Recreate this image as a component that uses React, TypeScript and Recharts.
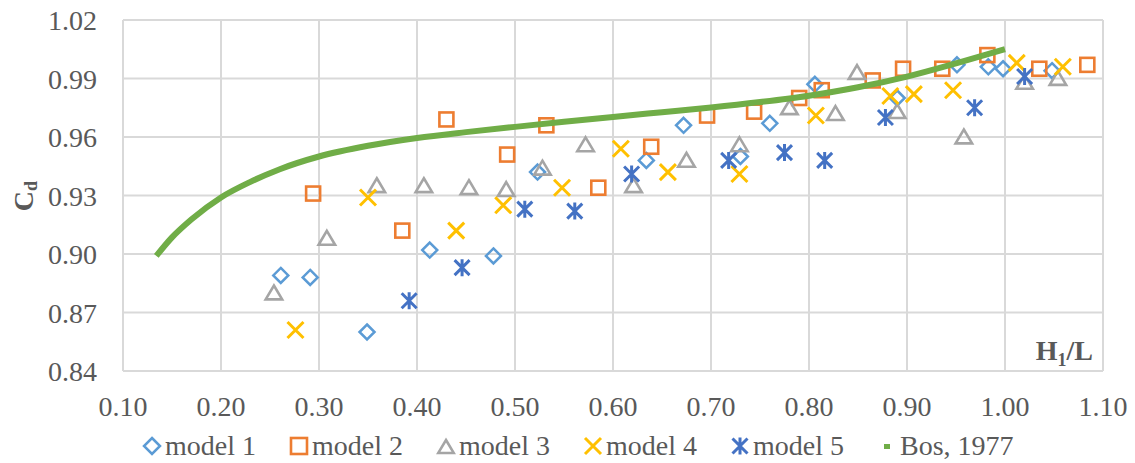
import React from "react"
import { ComposedChart, Scatter, XAxis, YAxis, CartesianGrid } from "recharts"

// tick values
const xTicks = [0.1, 0.2, 0.3, 0.4, 0.5, 0.6, 0.7, 0.8, 0.9, 1.0, 1.1]
const yTicks = [0.84, 0.87, 0.9, 0.93, 0.96, 0.99, 1.02]

// measured points [H1/L, Cd]
const model1: [number, number][] = [
  [0.261, 0.889], [0.291, 0.888], [0.349, 0.86], [0.413, 0.902], [0.478, 0.899],
  [0.523, 0.942], [0.634, 0.948], [0.672, 0.966], [0.73, 0.95], [0.76, 0.967],
  [0.806, 0.987], [0.89, 0.98], [0.951, 0.997], [0.983, 0.996], [0.998, 0.995],
  [1.048, 0.994],
]
const model2: [number, number][] = [
  [0.294, 0.931], [0.385, 0.912], [0.43, 0.969], [0.492, 0.951], [0.532, 0.966],
  [0.585, 0.934], [0.639, 0.955], [0.696, 0.971], [0.744, 0.973], [0.79, 0.98],
  [0.813, 0.984], [0.865, 0.989], [0.896, 0.995], [0.936, 0.995], [0.982, 1.002],
  [1.035, 0.995], [1.084, 0.997],
]
const model3: [number, number][] = [
  [0.254, 0.88], [0.308, 0.908], [0.359, 0.935], [0.407, 0.935], [0.453, 0.934],
  [0.491, 0.933], [0.528, 0.944], [0.572, 0.956], [0.621, 0.935], [0.675, 0.948],
  [0.729, 0.956], [0.78, 0.975], [0.827, 0.972], [0.849, 0.993], [0.89, 0.973],
  [0.958, 0.96], [1.02, 0.988], [1.054, 0.99],
]
const model4: [number, number][] = [
  [0.276, 0.861], [0.35, 0.929], [0.44, 0.912], [0.488, 0.925], [0.548, 0.934],
  [0.608, 0.954], [0.656, 0.942], [0.729, 0.941], [0.807, 0.971], [0.883, 0.981],
  [0.907, 0.982], [0.947, 0.984], [1.012, 0.998], [1.059, 0.996],
]
const model5: [number, number][] = [
  [0.392, 0.876], [0.446, 0.893], [0.51, 0.923], [0.561, 0.922], [0.619, 0.941],
  [0.718, 0.948], [0.775, 0.952], [0.816, 0.948], [0.878, 0.97], [0.969, 0.975],
  [1.02, 0.991],
]
// Bos, 1977 curve
const bos: [number, number][] = [
  [0.134, 0.899], [0.15, 0.9085], [0.17, 0.9178], [0.2, 0.929], [0.23, 0.937],
  [0.26, 0.9435], [0.3, 0.95], [0.35, 0.9555], [0.4, 0.9595], [0.45, 0.9625],
  [0.5, 0.9652], [0.55, 0.9678], [0.6, 0.9703], [0.65, 0.9727], [0.7, 0.9751],
  [0.75, 0.9779], [0.8, 0.9812], [0.85, 0.9855], [0.9, 0.991], [0.95, 0.9978],
  [1.0, 1.005],
]

const C1 = "#5B9BD5"
const C2 = "#ED7D31"
const C3 = "#A5A5A5"
const C4 = "#FFC000"
const C5 = "#4472C4"
const C6 = "#70AD47"
const TXT = "#595959"
const FONT = "'Liberation Serif', 'Times New Roman', serif"

const pts = (a: [number, number][]) => a.map(([x, y]) => ({ x, y }))

const diamond = (cx: number, cy: number, r: number, c: string) => (
  <path d={`M${cx},${cy - r}L${cx + r},${cy}L${cx},${cy + r}L${cx - r},${cy}Z`} fill="none" stroke={c} strokeWidth={2.5} />
)
const square = (cx: number, cy: number, h: number, c: string) => (
  <rect x={cx - h} y={cy - h} width={h * 2} height={h * 2} fill="none" stroke={c} strokeWidth={2.6} />
)
const triangle = (cx: number, cy: number, h: number, c: string) => (
  <path d={`M${cx},${cy - h}L${cx + h * 1.1},${cy + h * 0.85}L${cx - h * 1.1},${cy + h * 0.85}Z`} fill="none" stroke={c} strokeWidth={2.6} strokeLinejoin="miter" />
)
const cross = (cx: number, cy: number, h: number, c: string) => (
  <path d={`M${cx - h},${cy - h}L${cx + h},${cy + h}M${cx - h},${cy + h}L${cx + h},${cy - h}`} stroke={c} strokeWidth={3} />
)
const star = (cx: number, cy: number, h: number, c: string) => (
  <path d={`M${cx - h},${cy - h}L${cx + h},${cy + h}M${cx - h},${cy + h}L${cx + h},${cy - h}M${cx},${cy - h - 1}L${cx},${cy + h + 1}`} stroke={c} strokeWidth={3} />
)

const YTick = (p: any) => (
  <text x={97} y={p.y} dy={10} textAnchor="end" fill={TXT} fontSize={28} fontFamily={FONT}>
    {Number(p.payload.value).toFixed(2)}
  </text>
)
const XTick = (p: any) => (
  <text x={p.x} y={416} textAnchor="middle" fill={TXT} fontSize={28} fontFamily={FONT}>
    {Number(p.payload.value).toFixed(2)}
  </text>
)
const YLabel = () => (
  <text transform="rotate(-90, 33, 196)" x={33} y={196} textAnchor="middle" fill={TXT} fontSize={28} fontWeight="bold" fontFamily={FONT}>
    C<tspan fontSize={18} dy={4}>d</tspan>
  </text>
)
const XLabel = () => (
  <text x={1093} y={360} textAnchor="end" fill={TXT} fontSize={28} fontWeight="bold" fontFamily={FONT}>
    H<tspan fontSize={18} dy={6}>1</tspan><tspan dy={-6}>/L</tspan>
  </text>
)

const legendItems = [
  { name: "model 1", icon: diamond(10, 10, 8, C1) },
  { name: "model 2", icon: square(10, 10, 8, C2) },
  { name: "model 3", icon: triangle(10, 11, 7, C3) },
  { name: "model 4", icon: cross(10, 10, 8, C4) },
  { name: "model 5", icon: star(10, 10, 7.5, C5) },
  { name: "Bos, 1977", icon: <rect x={7} y={8} width={6} height={5} fill={C6} /> },
]

export default function App() {
  return (
    <div style={{ position: "absolute", left: 0, top: 0, width: 1135, height: 463, background: "#fff" }}>
      <ComposedChart width={1135} height={463} margin={{ top: 20, right: 32, bottom: 0, left: 0 }}>
        <CartesianGrid stroke="#D9D9D9" strokeWidth={2} />
        <XAxis
          type="number"
          dataKey="x"
          domain={[0.1, 1.1]}
          ticks={xTicks}
          interval={0}
          height={92}
          axisLine={false}
          tickLine={false}
          tick={<XTick />}
          label={<XLabel />}
          allowDataOverflow
        />
        <YAxis
          type="number"
          dataKey="y"
          domain={[0.84, 1.02]}
          ticks={yTicks}
          interval={0}
          width={123}
          axisLine={false}
          tickLine={false}
          tick={<YTick />}
          label={<YLabel />}
          allowDataOverflow
        />
        <Scatter data={pts(model1)} isAnimationActive={false} shape={(p: any) => diamond(p.cx, p.cy, 7.5, C1)} />
        <Scatter data={pts(model2)} isAnimationActive={false} shape={(p: any) => square(p.cx, p.cy, 7, C2)} />
        <Scatter data={pts(model3)} isAnimationActive={false} shape={(p: any) => triangle(p.cx, p.cy, 7.5, C3)} />
        <Scatter data={pts(model4)} isAnimationActive={false} shape={(p: any) => cross(p.cx, p.cy, 8, C4)} />
        <Scatter data={pts(model5)} isAnimationActive={false} shape={(p: any) => star(p.cx, p.cy, 7.5, C5)} />
        <Scatter
          data={pts(bos)}
          isAnimationActive={false}
          fill={C6}
          line={{ stroke: C6, strokeWidth: 6 }}
          lineJointType="monotoneX"
          shape={() => <g />}
        />
      </ComposedChart>
      <div
        style={{
          position: "absolute",
          left: 142,
          top: 432,
          display: "flex",
          alignItems: "center",
          gap: 33,
          fontFamily: FONT,
          fontSize: 28,
          lineHeight: "28px",
          color: TXT,
          whiteSpace: "nowrap",
        }}
      >
        {legendItems.map((it) => (
          <div key={it.name} style={{ display: "flex", alignItems: "center" }}>
            <svg width={20} height={20} style={{ marginRight: 3 }}>
              {it.icon}
            </svg>
            <span>{it.name}</span>
          </div>
        ))}
      </div>
    </div>
  )
}
